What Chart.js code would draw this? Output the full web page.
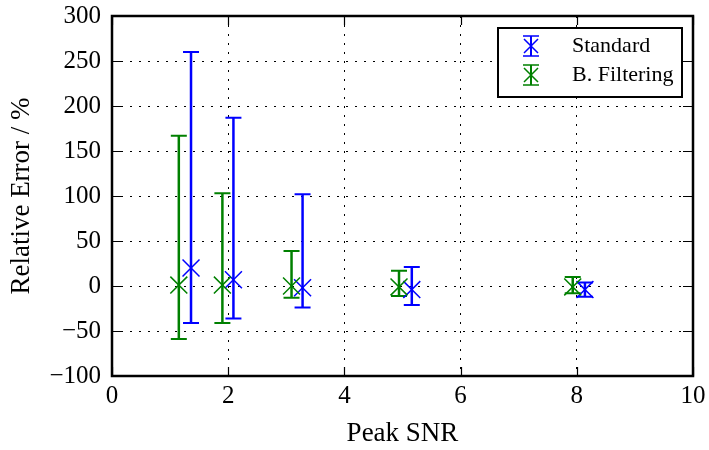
<!DOCTYPE html>
<html>
<head>
<meta charset="utf-8">
<script src="https://cdn.jsdelivr.net/npm/chart.js@4.4.1/dist/chart.umd.min.js"></script>
<style>
  html, body { margin: 0; padding: 0; background: #fff; }
  #wrap { width: 709px; height: 450px; }
</style>
</head>
<body>
<div id="wrap"><canvas id="errChart"></canvas></div>
<script>
'use strict';

// Standard
const stdX = [1.36, 2.09, 3.28, 5.16, 8.14];
const stdY = [20, 7, -2, -4, -4];
const stdLow = [-41, -36, -24, -21, -12];
const stdHigh = [260, 187, 102, 21, 4];

// B. Filtering
const filtX = [1.15, 1.9, 3.09, 4.94, 7.93];
const filtY = [1, 1, 0, -1, -1];
const filtLow = [-59, -41, -13, -11, -8];
const filtHigh = [167, 103, 39, 17, 10];

const xTicks = [0, 2, 4, 6, 8, 10];
const yTicks = [-100, -50, 0, 50, 100, 150, 200, 250, 300];

const seriesNames = ['Standard', 'B. Filtering'];
const blue = '#0000ff';
const green = '#008000';
const serif = '"Liberation Serif", "DejaVu Serif", serif';

const toPoints = (xs, ys) => xs.map((x, i) => ({ x: x, y: ys[i] }));

// error bars, inner ticks, frame and legend
const errorBarPlugin = {
  id: 'errorBars',
  beforeDatasetsDraw(chart) {
    const ctx = chart.ctx;
    const xs = chart.scales.x, ys = chart.scales.y;
    const sets = [
      { x: filtX, lo: filtLow, hi: filtHigh, c: green },
      { x: stdX, lo: stdLow, hi: stdHigh, c: blue }
    ];
    ctx.save();
    sets.forEach(s => {
      ctx.strokeStyle = s.c;
      s.x.forEach((v, i) => {
        const px = xs.getPixelForValue(v);
        const top = ys.getPixelForValue(s.hi[i]);
        const bot = ys.getPixelForValue(s.lo[i]);
        ctx.lineWidth = 2.5;
        ctx.beginPath();
        ctx.moveTo(px, top);
        ctx.lineTo(px, bot);
        ctx.stroke();
        ctx.lineWidth = 2;
        ctx.beginPath();
        ctx.moveTo(px - 8, top);
        ctx.lineTo(px + 8, top);
        ctx.moveTo(px - 8, bot);
        ctx.lineTo(px + 8, bot);
        ctx.stroke();
      });
    });
    ctx.restore();
  },
  afterDraw(chart) {
    const ctx = chart.ctx;
    const a = chart.chartArea;
    const xs = chart.scales.x, ys = chart.scales.y;
    ctx.save();
    ctx.strokeStyle = '#000';
    ctx.lineWidth = 1.2;
    ctx.beginPath();
    xTicks.forEach(t => {
      const px = Math.round(xs.getPixelForValue(t)) + 0.5;
      ctx.moveTo(px, a.bottom); ctx.lineTo(px, a.bottom - 9);
      ctx.moveTo(px, a.top); ctx.lineTo(px, a.top + 9);
    });
    yTicks.forEach(t => {
      const py = Math.round(ys.getPixelForValue(t)) + 0.5;
      ctx.moveTo(a.left, py); ctx.lineTo(a.left + 10, py);
      ctx.moveTo(a.right, py); ctx.lineTo(a.right - 10, py);
    });
    ctx.stroke();
    ctx.lineWidth = 2.5;
    ctx.strokeRect(a.left, a.top, a.right - a.left, a.bottom - a.top);

    // legend
    const lx = 498, ly = 28, lw = 184, lh = 69;
    ctx.fillStyle = '#fff';
    ctx.fillRect(lx, ly, lw, lh);
    ctx.lineWidth = 2;
    ctx.strokeRect(lx, ly, lw, lh);
    const entries = [[seriesNames[0], blue, 46], [seriesNames[1], green, 75]];
    entries.forEach(e => {
      const cx = 531, cy = e[2];
      ctx.strokeStyle = e[1];
      ctx.lineWidth = 2;
      ctx.beginPath();
      ctx.moveTo(cx, cy - 10); ctx.lineTo(cx, cy + 10);
      ctx.stroke();
      ctx.lineWidth = 1.5;
      ctx.beginPath();
      ctx.moveTo(cx - 8, cy - 10); ctx.lineTo(cx + 8, cy - 10);
      ctx.moveTo(cx - 8, cy + 10); ctx.lineTo(cx + 8, cy + 10);
      ctx.moveTo(cx - 7, cy - 7); ctx.lineTo(cx + 7, cy + 7);
      ctx.moveTo(cx - 7, cy + 7); ctx.lineTo(cx + 7, cy - 7);
      ctx.stroke();
      ctx.fillStyle = '#000';
      ctx.font = '22px ' + serif;
      ctx.textBaseline = 'middle';
      ctx.textAlign = 'left';
      ctx.fillText(e[0], 572, cy);
    });
    ctx.restore();
  }
};

const ctx = document.getElementById('errChart').getContext('2d');
new Chart(ctx, {
  type: 'scatter',
  data: {
    datasets: [
      {
        label: seriesNames[1],
        data: toPoints(filtX, filtY),
        pointStyle: 'crossRot',
        pointRadius: 12,
        pointHoverRadius: 12,
        borderColor: green,
        backgroundColor: green,
        pointBorderWidth: 1.5
      },
      {
        label: seriesNames[0],
        data: toPoints(stdX, stdY),
        pointStyle: 'crossRot',
        pointRadius: 12,
        pointHoverRadius: 12,
        borderColor: blue,
        backgroundColor: blue,
        pointBorderWidth: 1.5
      }
    ]
  },
  options: {
    responsive: true,
    maintainAspectRatio: false,
    animation: false,
    layout: { padding: { top: 16, right: 16, left: 0, bottom: 0 } },
    plugins: {
      legend: { display: false },
      tooltip: { enabled: false }
    },
    scales: {
      x: {
        type: 'linear',
        min: 0,
        max: 10,
        afterFit: s => { s.height = 74; s.paddingLeft = 0; s.paddingRight = 0; },
        afterBuildTicks: s => { s.ticks = xTicks.map(v => ({ value: v })); },
        ticks: { color: '#000', padding: 5, font: { family: serif, size: 25 } },
        grid: { color: '#000', lineWidth: 1, drawTicks: false },
        border: { display: false, dash: [2, 7] },
        title: {
          display: true,
          text: 'Peak SNR',
          color: '#000',
          font: { family: serif, size: 27 },
          padding: { top: 0, bottom: 0 }
        }
      },
      y: {
        type: 'linear',
        min: -100,
        max: 300,
        afterFit: s => { s.width = 112; s.paddingTop = 0; s.paddingBottom = 0; },
        afterBuildTicks: s => { s.ticks = yTicks.map(v => ({ value: v })); },
        ticks: {
          color: '#000',
          padding: 11,
          font: { family: serif, size: 25 },
          callback: v => (v < 0 ? '\u2212' + Math.abs(v) : '' + v)
        },
        grid: { color: '#000', lineWidth: 1, drawTicks: false },
        border: { display: false, dash: [2, 7] },
        title: {
          display: true,
          text: 'Relative Error / %',
          color: '#000',
          font: { family: serif, size: 27 },
          padding: { top: 6, bottom: 0 }
        }
      }
    }
  },
  plugins: [errorBarPlugin]
});
</script>
</body>
</html>
